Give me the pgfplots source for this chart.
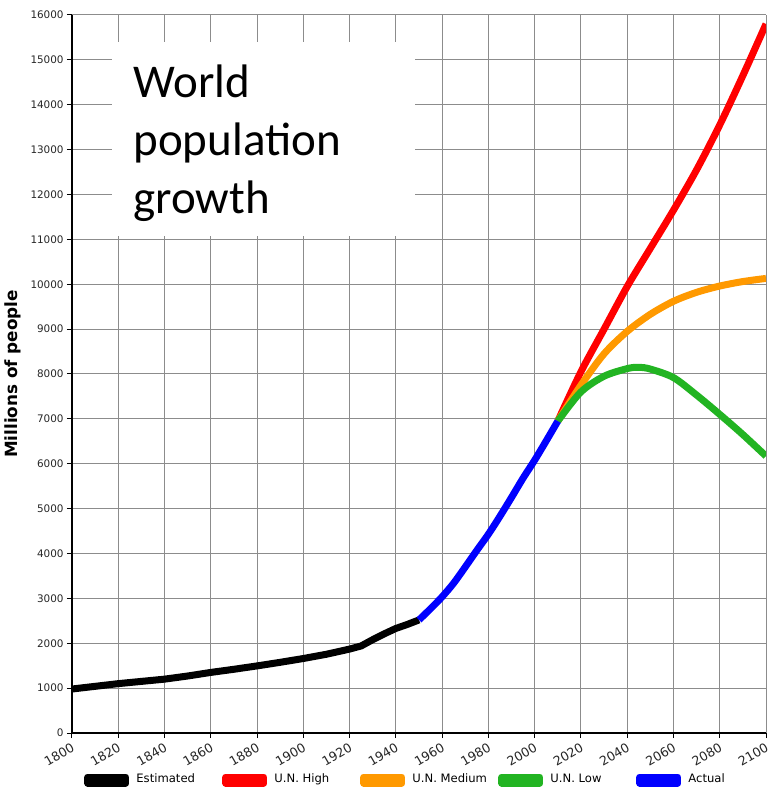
\documentclass[border=0pt]{standalone}
\usepackage{pgfplots}
\pgfplotsset{compat=1.18}
\usepackage{fontspec}
\setmainfont{DejaVu Sans}
\newfontfamily\titlefont{Carlito}

\definecolor{unhigh}{RGB}{255,0,0}
\definecolor{unmed}{RGB}{255,153,0}
\definecolor{unlow}{RGB}{34,180,34}
\definecolor{actual}{RGB}{0,0,255}
\definecolor{gridgray}{RGB}{140,140,140}

\begin{document}
\begin{tikzpicture}
	\begin{axis}[
			at={(0,0)}, anchor=south west,
			scale only axis,
			width=347pt, height=359pt,
			xmin=1800, xmax=2100,
			ymin=0, ymax=16000,
			xtick={1800,1820,...,2100},
			ytick={0,1000,...,16000},
			scaled ticks=false,
			axis lines=left,
			axis line style={-, line width=0.6pt},
			tick align=outside,
			major tick length=2.5pt,
			tick style={black, line width=0.5pt},
			grid=major,
			grid style={gridgray, line width=0.5pt},
			ticklabel style={text=black!85},
			/pgf/number format/assume math mode=true,
			/pgf/number format/1000 sep={},
			xticklabel style={font=\fontsize{6.3}{7}\selectfont, rotate=30, anchor=north east, inner sep=1.5pt},
			yticklabel style={font=\fontsize{5.2}{6}\selectfont, inner sep=1.5pt},
			ylabel={Millions of people},
			ylabel style={font=\fontsize{8.4}{9}\selectfont\bfseries,
				at={(axis description cs:-0.085,0.5)}, anchor=center, rotate=0},
			legend columns=5,
			legend style={at={(0.0173,-0.0655)}, anchor=west, draw=none, fill=none,
				inner sep=0pt, nodes={inner sep=0pt},
				font=\fontsize{5.8}{7}\selectfont,
				/tikz/every odd column/.append style={column sep=3.5pt},
				/tikz/every even column/.append style={column sep=0pt}},
			legend image code/.code={
				\path (0pt,-1.5pt) rectangle (19pt,1.5pt);
				\draw[#1, line width=3.5pt, line cap=round] (1.75pt,0pt) -- (17.25pt,0pt);
			},
			every axis plot/.append style={line width=3.5pt, line join=round},
		]

		% title box over the grid
		\fill[white] (axis cs:1817.3,11074) rectangle (axis cs:1948.3,15397);
		\node[anchor=base west, inner sep=0pt, font=\titlefont\fontsize{23.5}{28}\selectfont]
			at (axis cs:1826.4,14171) {World};
		\node[anchor=base west, inner sep=0pt, font=\titlefont\fontsize{23.5}{28}\selectfont]
			at (axis cs:1826.4,12879) {population};
		\node[anchor=base west, inner sep=0pt, font=\titlefont\fontsize{23.5}{28}\selectfont]
			at (axis cs:1826.4,11586) {growth};

		\addplot[black] coordinates {
			(1800,980) (1810,1040) (1820,1100) (1830,1150) (1840,1200)
			(1850,1270) (1860,1350) (1870,1420) (1880,1495) (1890,1575)
			(1900,1660) (1910,1755) (1920,1870) (1925,1940) (1930,2080)
			(1935,2210) (1940,2330) (1945,2420) (1950,2520)
		};
		\addlegendentry{\makebox[43pt][l]{Estimated}}

		\addplot[unhigh, smooth] coordinates {
			(2010,6950) (2020,8050) (2030,9000) (2040,9950) (2050,10800)
			(2060,11650) (2070,12550) (2080,13550) (2090,14650) (2100,15800)
		};
		\addlegendentry{\makebox[43pt][l]{U.N. High}}

		\addplot[unmed, smooth] coordinates {
			(2010,6950) (2020,7750) (2030,8450) (2040,8950) (2050,9330)
			(2060,9620) (2070,9820) (2080,9960) (2090,10060) (2100,10130)
		};
		\addlegendentry{\makebox[43pt][l]{U.N. Medium}}

		\addplot[unlow, smooth] coordinates {
			(2010,6950) (2020,7600) (2030,7950) (2040,8120) (2045,8150)
			(2050,8110) (2060,7920) (2070,7530) (2080,7100) (2090,6650)
			(2100,6170)
		};
		\addlegendentry{\makebox[43pt][l]{U.N. Low}}

		\addplot[actual, smooth] coordinates {
			(1950,2520) (1955,2770) (1960,3035) (1965,3340) (1970,3700)
			(1975,4070) (1980,4430) (1985,4830) (1990,5250) (1995,5680)
			(2000,6080) (2005,6510) (2010,6950)
		};
		\addlegendentry{\makebox[43pt][l]{Actual}}
	\end{axis}
	\pgfresetboundingbox
	\path[use as bounding box] (-36pt,-27pt) rectangle (348pt,366.5pt);
\end{tikzpicture}
\end{document}
